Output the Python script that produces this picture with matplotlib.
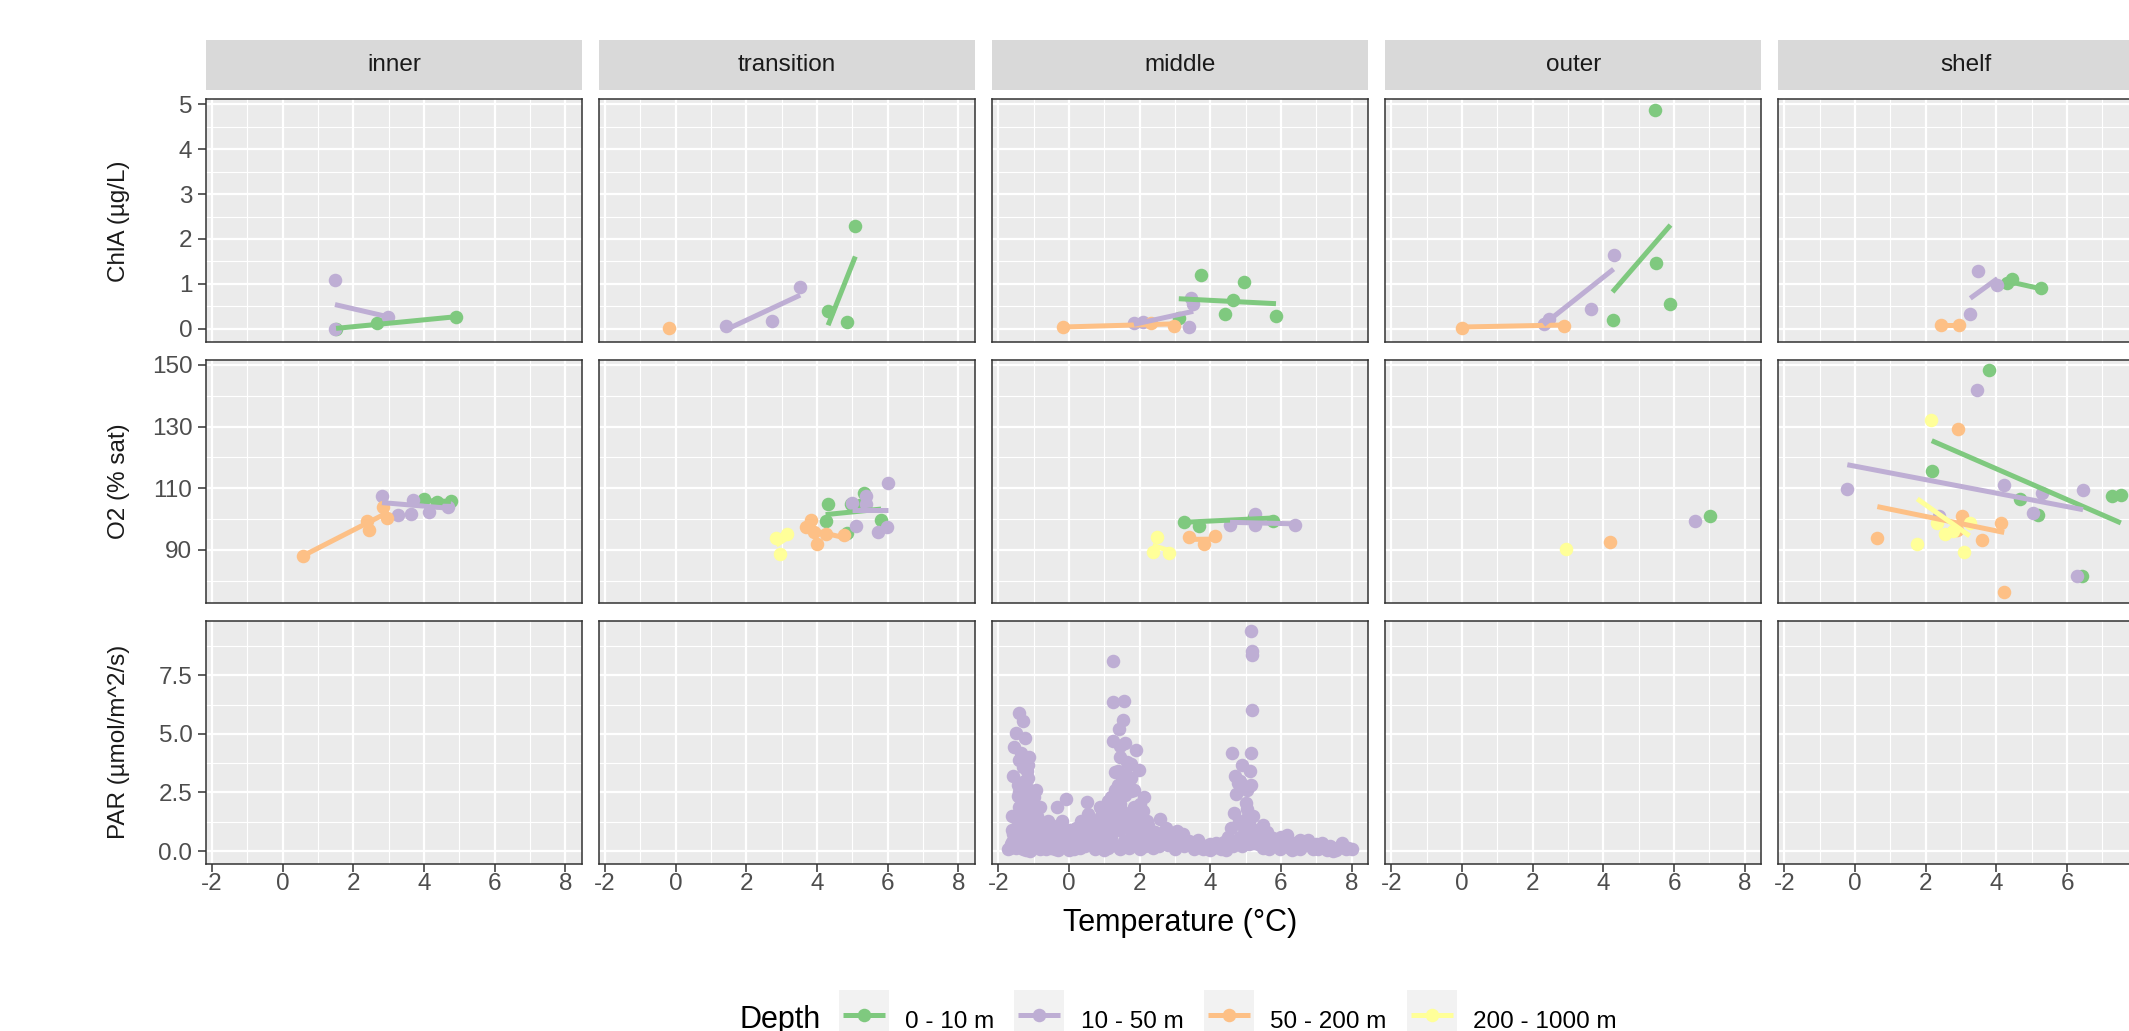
import numpy as np
import matplotlib.pyplot as plt
from matplotlib.ticker import MultipleLocator, FixedLocator, FormatStrFormatter
from matplotlib.patches import Rectangle

plt.rcParams['font.family'] = ['Liberation Sans', 'DejaVu Sans']
plt.rcParams['axes.unicode_minus'] = False

# ---------------------------------------------------------
# Data
# ---------------------------------------------------------
regions = ['inner', 'transition', 'middle', 'outer', 'shelf']
depths = ['0 - 10 m', '10 - 50 m', '50 - 200 m', '200 - 1000 m']
depth_colors = ['#7FC97F', '#BEAED4', '#FDC086', '#FFFF99']
variables = ['ChlA (µg/L)', 'O2 (% sat)', 'PAR (µmol/m^2/s)']

# ChlA samples: region index, depth index, temperature, value
chla_region = [0, 0, 0, 0, 0, 0,
               1, 1, 1, 1, 1, 1, 1,
               2, 2, 2, 2, 2, 2, 2, 2, 2, 2, 2, 2, 2, 2,
               3, 3, 3, 3, 3, 3, 3, 3, 3, 3,
               4, 4, 4, 4, 4, 4, 4, 4]
chla_depth = [0, 0, 0, 1, 1, 1,
              0, 0, 0, 1, 1, 1, 2,
              0, 0, 0, 0, 0, 0, 1, 1, 1, 1, 1, 2, 2, 2,
              0, 0, 0, 0, 1, 1, 1, 1, 2, 2,
              0, 0, 0, 1, 1, 1, 2, 2]
chla_temp = [1.51, 2.67, 4.91, 1.48, 1.48, 2.97,
             4.31, 4.84, 5.08, 1.42, 2.73, 3.52, -0.18,
             3.11, 3.74, 4.42, 4.63, 4.96, 5.86, 1.84, 2.11, 3.41, 3.45, 3.52, -0.18, 2.31, 2.97,
             4.26, 5.47, 5.50, 5.90, 2.31, 2.47, 3.65, 4.29, -0.01, 2.88,
             4.30, 4.44, 5.27, 3.26, 3.49, 4.03, 2.43, 2.95]
chla_value = [0.00, 0.13, 0.27, 1.08, 0.00, 0.27,
              0.39, 0.15, 2.30, 0.06, 0.18, 0.94, 0.02,
              0.23, 1.20, 0.32, 0.65, 1.04, 0.28, 0.12, 0.155, 0.04, 0.69, 0.56, 0.04, 0.13, 0.07,
              0.19, 4.88, 1.46, 0.56, 0.11, 0.21, 0.45, 1.65, 0.02, 0.07,
              1.03, 1.10, 0.91, 0.34, 1.28, 0.98, 0.095, 0.095]

# O2 samples: region index, depth index, temperature, value
o2_region = [0] * 14 + [1] * 23 + [2] * 14 + [3] * 4 + [4] * 29
o2_depth = [0, 0, 0, 1, 1, 1, 1, 1, 1, 2, 2, 2, 2, 2,
            0, 0, 0, 0, 0, 0, 0, 1, 1, 1, 1, 1, 1, 1, 2, 2, 2, 2, 2, 2, 3, 3, 3,
            0, 0, 0, 0, 1, 1, 1, 1, 2, 2, 2, 3, 3, 3,
            0, 1, 2, 3,
            0, 0, 0, 0, 0, 0, 0, 1, 1, 1, 1, 1, 1, 1, 1, 2, 2, 2, 2, 2, 2, 2,
            3, 3, 3, 3, 3, 3, 3]
o2_temp = [4.00, 4.37, 4.76, 2.81, 3.26, 3.64, 3.70, 4.15, 4.67, 0.58, 2.38, 2.45, 2.85, 2.94,
           4.24, 4.31, 4.84, 4.95, 5.22, 5.33, 5.81, 4.98, 5.10, 5.38, 5.38, 5.72, 5.97, 6.00,
           3.69, 3.83, 3.90, 4.01, 4.26, 4.77, 2.84, 2.95, 3.16,
           3.26, 3.68, 5.25, 5.77, 4.56, 5.27, 5.27, 6.40, 3.41, 3.82, 4.13, 2.37, 2.50, 2.84,
           7.01, 6.58, 4.18, 2.95,
           2.17, 3.79, 4.67, 5.19, 6.42, 7.27, 7.52,
           -0.22, 2.38, 3.46, 4.20, 5.03, 5.29, 6.29, 6.45,
           0.63, 2.88, 2.92, 3.02, 3.60, 4.12, 4.22,
           1.76, 2.15, 2.31, 2.55, 2.77, 3.07, 3.24]
o2_value = [106.4, 105.5, 105.7, 107.6, 101.4, 101.7, 106.2, 102.2, 103.8, 88.05, 99.2, 96.3, 103.8, 100.3,
            99.2, 104.8, 95.4, 104.9, 104.6, 108.4, 99.7, 105.3, 97.6, 107.3, 104.9, 95.6, 97.4, 111.6,
            97.4, 99.5, 95.9, 91.9, 95.1, 94.9, 93.8, 88.7, 95.1,
            99.0, 97.6, 100.5, 99.4, 98.1, 101.7, 97.9, 97.9, 94.0, 91.9, 94.3, 89.25, 94.0, 88.9,
            101.0, 99.2, 92.5, 90.2,
            115.4, 148.4, 106.4, 101.4, 81.4, 107.5, 107.8,
            109.7, 101.0, 141.9, 110.9, 101.9, 108.4, 81.4, 109.5,
            93.8, 96.5, 129.1, 101.0, 93.2, 98.6, 76.3,
            91.9, 132.2, 98.7, 95.1, 96.0, 89.25, 98.7]

# PAR samples (middle region, 10 - 50 m only)
par_temp = [-1.415, -1.31, -1.50, -1.245, -1.55, -1.13, -1.41, -1.15, -1.58, -1.18, -1.31, -1.43, -0.93,
            -1.20, -1.62, -0.82, -1.10, -0.58, -1.01, -0.35, -0.08, -1.58, -1.29, -1.67, -0.16, -0.02,
            -1.50, -1.30, -1.20, -1.00, -0.80, -0.60, -1.40, -1.10, -1.25, -1.30, -1.35, -1.20, -0.90,
            -0.70, -0.40, -0.20, -1.60, -1.45, -1.00, -0.50,
            1.25, 1.25, 1.56, 1.52, 1.42, 1.25, 1.90, 1.44, 1.30, 1.77, 1.99, 1.63, 1.77, 1.30, 2.13,
            0.52, 1.11, 0.88, 1.44, 1.63, 2.10, 2.20, 2.58, 0.55, 0.78, 1.07, 1.77, 2.39, 2.76, 3.05,
            3.24, 3.66,
            0.70, 0.90, 1.10, 1.20, 1.35, 1.50, 1.60, 1.70, 1.85, 2.00, 1.00, 1.30, 1.50, 1.40, 1.75,
            0.60, 2.30, 2.50, 1.20, 0.40, 2.90,
            5.15, 5.17, 5.17, 5.17, 4.62, 5.14, 4.91, 5.12, 4.70, 4.79, 5.14, 4.74, 5.00, 5.03, 4.68,
            5.05, 5.17, 5.48, 6.16, 5.78,
            4.95, 5.10, 4.85, 5.30, 5.05, 4.85, 5.25, 5.60, 5.90, 6.20, 4.40, 4.00, 3.80, 3.30, 2.95,
            4.23, 4.56, 6.54, 6.77, 7.20, 7.72, 8.00, 7.48, 6.92, 5.97, 4.08, 3.52, 3.14, 2.76, 2.39,
            1.92, 1.44, 0.88, 0.31, -0.25, -0.82, -1.10, -1.72, -0.63, -1.10, -1.48, 0.12, 0.59, 1.63,
            2.10, 4.65, 5.22, 5.50, 6.45,
            6.00, 6.60, 7.00, 7.30, 7.60, 7.85, 6.30, 5.70, 4.30, 2.00, 1.00, 0.00, -0.40, -1.30, -1.55,
            -1.65, -1.60, -1.50, -1.45, -1.40, -1.35, -1.25, -1.20, -1.15, -1.05, -0.95, -0.95, -0.85,
            -0.75, -0.65, -0.60, -0.50, -0.45, -0.35, -0.30, -0.20, -0.10, 0.00, 0.05, 0.15, 0.20,
            0.30, 0.35, 0.45, 0.50, 0.60, 0.70, 0.75, 0.80, 0.90, 0.95, 1.05, 1.10, 1.15, 1.20,
            1.30, 1.35, 1.45, 1.50, 1.55, 1.65, 1.70, 1.80, 1.90, 1.95, 2.05, 2.15, 2.25, 2.30,
            2.45, 2.55, 2.65, 2.80, 2.90, 3.00, 3.10, 3.25, 3.40, 3.55, 3.70, 3.85, 4.00, 4.15,
            4.30, 4.45, 4.50, 4.60, 4.75, 4.80, 4.90, 5.00, 5.10, 5.20, 5.35, 5.40, 5.55, 5.65,
            5.80, 5.95, 6.10, 6.25, 6.40, 6.55, 6.70, 6.85, 7.05, 7.15, 7.40, 7.55, 7.70, 7.90,
            -1.30, -1.15, -1.05, -1.40, -1.20, -1.00, 1.40, 1.55, 1.65, 1.35, 1.85, 1.45, 1.60,
            2.00, 1.20]
par_value = [5.90, 5.54, 5.03, 4.83, 4.43, 4.00, 3.89, 3.69, 3.21, 3.43, 2.93, 2.36, 2.60,
             2.79, 1.50, 1.86, 2.07, 1.29, 1.43, 1.86, 2.21, 0.71, 0.86, 0.14, 0.86, 0.71,
             1.00, 1.50, 2.00, 1.00, 0.60, 0.90, 1.90, 2.50, 3.00, 3.60, 4.20, 1.20, 1.50,
             0.30, 0.60, 0.40, 0.40, 2.80, 0.30, 0.15,
             8.10, 6.36, 6.40, 5.60, 5.21, 4.71, 4.33, 4.00, 3.36, 3.71, 3.46, 3.29, 2.57, 2.60, 2.31,
             2.10, 2.14, 1.86, 2.00, 1.57, 1.71, 1.29, 1.36, 1.57, 1.29, 1.00, 0.86, 0.71, 1.00, 0.86,
             0.71, 0.46,
             0.80, 1.10, 1.50, 2.30, 1.60, 1.20, 2.40, 1.10, 1.90, 1.00, 0.60, 0.90, 3.00, 2.80, 3.10,
             1.10, 0.90, 0.50, 0.30, 0.60, 0.50,
             9.40, 8.54, 8.36, 6.03, 4.19, 4.19, 3.69, 3.43, 3.21, 2.89, 2.81, 2.43, 2.07, 1.79, 1.63,
             1.43, 0.93, 1.11, 0.69, 0.57,
             1.00, 1.20, 0.60, 0.60, 2.60, 3.00, 0.90, 0.80, 0.40, 0.30, 0.40, 0.30, 0.10, 0.30, 0.20,
             0.31, 0.31, 0.46, 0.46, 0.17, 0.36, 0.07, 0.00, 0.07, 0.07, 0.14, 0.21, 0.43, 0.29, 0.14,
             0.21, 0.07, 0.29, 0.14, 0.21, 0.07, 0.00, 0.07, 0.43, 0.71, 0.50, 0.57, 0.50, 0.43,
             0.43, 0.21, 0.36, 0.14, 0.14,
             0.60, 0.20, 0.30, 0.05, 0.15, 0.10, 0.05, 0.20, 0.10, 0.10, 0.05, 0.05, 0.10, 0.10, 0.20,
             0.30, 0.90, 0.15, 0.60, 1.20, 0.35, 0.70, 0.05, 1.00, 0.50, 0.20, 0.85, 1.20,
             0.50, 0.10, 0.70, 1.10, 0.35, 0.80, 0.05, 1.30, 0.30, 0.90, 0.45, 0.10, 1.00,
             0.55, 1.30, 0.20, 0.90, 0.40, 1.30, 0.10, 0.60, 1.50, 0.30, 0.85, 0.15, 1.80, 0.60,
             1.30, 0.20, 0.90, 1.70, 0.45, 1.20, 0.15, 0.60, 1.40, 0.35, 0.75, 0.20, 1.10, 0.45,
             0.80, 0.20, 0.60, 0.25, 0.70, 0.10, 0.50, 0.20, 0.45, 0.10, 0.30, 0.20, 0.05, 0.35,
             0.20, 0.05, 0.60, 1.00, 0.40, 1.30, 0.20, 0.70, 0.30, 1.50, 0.30, 0.90, 0.40, 0.10,
             0.35, 0.20, 0.50, 0.15, 0.35, 0.10, 0.25, 0.30, 0.10, 0.35, 0.20, 0.05, 0.20, 0.15,
             2.20, 3.10, 1.80, 2.50, 1.60, 2.30, 3.40, 2.70, 3.80, 2.20, 2.60, 4.50, 4.60,
             2.00, 1.90]

# linear fits (geom_smooth lm): variable, region, depth, endpoints
fit_var = [0] * 13 + [1] * 15
fit_region = [0, 0, 1, 1, 2, 2, 2, 3, 3, 3, 4, 4, 4,
              0, 0, 0, 1, 1, 1, 1, 2, 2, 2, 2, 4, 4, 4, 4]
fit_depth = [1, 0, 1, 0, 2, 1, 0, 2, 1, 0, 2, 1, 0,
             2, 1, 0, 0, 1, 2, 3, 0, 1, 2, 3, 0, 1, 2, 3]
fit_x0 = [1.48, 1.51, 1.42, 4.31, -0.18, 1.84, 3.11, -0.01, 2.31, 4.26, 2.43, 3.26, 4.30,
          0.58, 2.81, 4.00, 4.24, 4.98, 3.69, 2.84, 3.26, 4.56, 3.41, 2.37, 2.17, -0.22, 0.63, 1.76]
fit_x1 = [2.97, 4.91, 3.52, 5.08, 2.97, 3.52, 5.86, 2.88, 4.29, 5.90, 2.95, 4.03, 5.27,
          2.94, 4.67, 4.76, 5.81, 6.00, 4.77, 3.16, 5.77, 6.40, 4.13, 2.84, 7.52, 6.45, 4.22, 3.24]
fit_y0 = [0.54, 0.01, -0.02, 0.08, 0.04, 0.10, 0.67, 0.04, 0.095, 0.82, 0.095, 0.68, 1.06,
          88.05, 105.3, 105.9, 101.4, 103.0, 96.8, 91.5, 98.9, 98.9, 93.35, 91.4, 125.4, 117.6, 104.0, 106.5]
fit_y1 = [0.27, 0.27, 0.75, 1.61, 0.11, 0.39, 0.56, 0.085, 1.33, 2.31, 0.095, 1.12, 0.89,
          101.9, 103.5, 105.7, 103.2, 103.0, 93.9, 93.9, 100.3, 98.4, 93.45, 89.7, 98.7, 103.0, 95.6, 94.5]

# ---------------------------------------------------------
# Layout (pixels of the 2129 x 1031 canvas)
# ---------------------------------------------------------
W, H = 2129, 1031
col_left = [206 + i * 393.1 for i in range(5)]
row_top = [99.3, 360.0, 620.7]
pw, ph = 376, 243
xlim = (-2.17, 8.47)
ylims = [(-0.30, 5.11), (72.7, 151.6), (-0.54, 9.83)]

fig = plt.figure(figsize=(W / 100, H / 100), dpi=100)

samples = [
    (np.array(chla_region), np.array(chla_depth), np.array(chla_temp), np.array(chla_value)),
    (np.array(o2_region), np.array(o2_depth), np.array(o2_temp), np.array(o2_value)),
    (np.full(len(par_temp), 2), np.full(len(par_temp), 1), np.array(par_temp), np.array(par_value)),
]

for r in range(3):
    reg, dep, tx, vy = samples[r]
    for c in range(5):
        ax = fig.add_axes([col_left[c] / W, 1 - (row_top[r] + ph) / H, pw / W, ph / H])
        ax.set_facecolor('#EBEBEB')
        ax.set_xlim(*xlim)
        ax.set_ylim(*ylims[r])

        if c == 4:
            # the last facet runs past the canvas edge; its "8" tick is off-canvas
            ax.xaxis.set_major_locator(FixedLocator([-2, 0, 2, 4, 6]))
        else:
            ax.xaxis.set_major_locator(MultipleLocator(2))
        ax.xaxis.set_minor_locator(FixedLocator([-1, 1, 3, 5, 7]))
        if r == 0:
            ax.yaxis.set_major_locator(MultipleLocator(1))
            ax.yaxis.set_minor_locator(MultipleLocator(0.5))
        elif r == 1:
            ax.yaxis.set_major_locator(FixedLocator([90, 110, 130, 150]))
            ax.yaxis.set_minor_locator(FixedLocator([80, 100, 120, 140]))
        else:
            ax.yaxis.set_major_locator(MultipleLocator(2.5))
            ax.yaxis.set_minor_locator(MultipleLocator(1.25))
            ax.yaxis.set_major_formatter(FormatStrFormatter('%.1f'))

        ax.grid(which='major', color='white', linewidth=1.6)
        ax.grid(which='minor', color='white', linewidth=0.8)
        if c == 4:
            ax.axvline(8, color='white', linewidth=1.6, zorder=0.5)
        ax.set_axisbelow(True)
        for sp in ax.spines.values():
            sp.set_color('#333333')
            sp.set_linewidth(1.1)

        ax.tick_params(which='minor', length=0)
        ax.tick_params(which='major', length=5.8, width=1.1, color='#333333',
                       labelsize=17.5, labelcolor='#4D4D4D')
        ax.tick_params(axis='x', pad=1)
        ax.tick_params(axis='y', pad=4)
        if c > 0:
            ax.tick_params(axis='y', left=False, labelleft=False)
        if r < 2:
            ax.tick_params(axis='x', bottom=False, labelbottom=False)

        # points
        for d in range(4):
            m = (reg == c) & (dep == d)
            if m.any():
                ax.scatter(tx[m], vy[m], s=95, color=depth_colors[d], linewidths=0, zorder=3)

        # fitted lines
        for k in range(len(fit_var)):
            if fit_var[k] == r and fit_region[k] == c:
                ax.plot([fit_x0[k], fit_x1[k]], [fit_y0[k], fit_y1[k]],
                        color=depth_colors[fit_depth[k]], linewidth=3.6,
                        solid_capstyle='butt', zorder=4)

    # row label (switched strip on the left)
    fig.text(119 / W, 1 - (row_top[r] + ph / 2) / H, variables[r], rotation=90,
             ha='center', va='center', fontsize=17.5, color='#1A1A1A')

# column strips
for c in range(5):
    sax = fig.add_axes([col_left[c] / W, 1 - 90 / H, pw / W, 50 / H])
    sax.set_facecolor('#D9D9D9')
    sax.set_xticks([])
    sax.set_yticks([])
    for sp in sax.spines.values():
        sp.set_visible(False)
    sax.text(0.5, 0.5, regions[c], transform=sax.transAxes, ha='center', va='center',
             fontsize=17.5, color='#1A1A1A')

fig.text(1180 / W, 1 - 923 / H, 'Temperature (°C)', ha='center', va='center', fontsize=22)

# ---------------------------------------------------------
# Legend (bottom, partly cut by the canvas edge)
# ---------------------------------------------------------
lg = fig.add_axes([0, 0, 1, 1])
lg.set_xlim(0, W)
lg.set_ylim(H, 0)
lg.axis('off')
key_x = [839, 1014, 1204, 1407]
text_x = [905, 1081, 1270, 1473]
lg.text(740, 1028, 'Depth', fontsize=22, ha='left', va='baseline')
for i in range(4):
    lg.add_patch(Rectangle((key_x[i], 990), 50, 50, facecolor='#F2F2F2', edgecolor='none'))
    lg.plot([key_x[i] + 4, key_x[i] + 46], [1015, 1015], color=depth_colors[i],
            linewidth=3.6, solid_capstyle='butt')
    lg.scatter([key_x[i] + 25], [1015], s=95, color=depth_colors[i], linewidths=0)
    lg.text(text_x[i], 1028, depths[i], fontsize=17.5, ha='left', va='baseline')

plt.savefig('out.png', dpi=100)
